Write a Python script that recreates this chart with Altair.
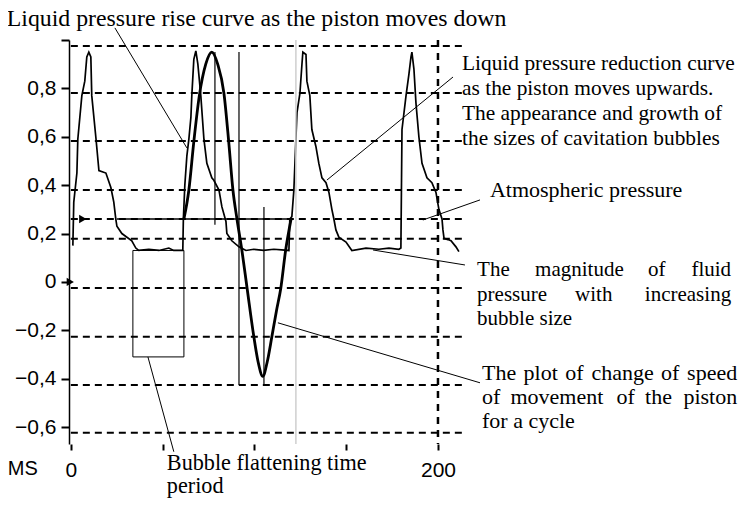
import altair as alt
import pandas as pd

# ---- pressure trace (thin stepped curve), time in ms, pressure value
trace_t = [1.1, 1.6, 3.3, 3.8, 6.0, 7.6, 8.7, 9.8, 10.9, 11.4, 13.6, 15.3, 19.1, 21.8, 23.4, 24.5, 25.1, 27.8,
           33.2, 35.4, 37.0, 42.5, 48.0, 53.4, 56.0, 61.0, 61.3, 62.1, 63.2, 64.3, 65.4, 65.9, 67.0, 68.1,
           69.2, 70.8, 72.5, 74.1, 76.8, 77.9, 80.7, 82.3, 84.5, 85.0, 87.7, 91.6, 95.4, 99.7, 105.0, 110.6,
           118.8, 119.3, 120.4, 121.5, 122.6, 123.2, 124.8, 125.9, 126.4, 128.1, 128.6, 130.2, 131.3, 133.5,
           135.1, 136.8, 139.0, 140.6, 142.2, 143.3, 144.4, 146.0, 149.9, 153.1, 160.8, 167.8, 173.3, 178.7,
           179.8, 180.4, 182.6, 184.2, 185.3, 185.8, 186.9, 188.0, 189.6, 191.3, 194.0, 196.7, 198.9, 200.5,
           202.2, 202.7, 203.3, 205.4, 207.1, 209.8, 211.4]
trace_v = [0.15, 0.33, 0.45, 0.59, 0.77, 0.83, 0.93, 0.95, 0.93, 0.77, 0.60, 0.46, 0.45, 0.39, 0.33, 0.26, 0.23, 0.20,
           0.17, 0.14, 0.13, 0.135, 0.13, 0.14, 0.13, 0.13, 0.26, 0.40, 0.52, 0.59, 0.68, 0.77, 0.92, 0.955,
           0.90, 0.77, 0.59, 0.49, 0.43, 0.42, 0.38, 0.31, 0.25, 0.20, 0.17, 0.145, 0.13, 0.135, 0.13, 0.135,
           0.13, 0.26, 0.27, 0.38, 0.59, 0.70, 0.78, 0.90, 0.95, 0.94, 0.83, 0.77, 0.63, 0.56,
           0.49, 0.43, 0.41, 0.37, 0.30, 0.26, 0.215, 0.185, 0.165, 0.13, 0.14, 0.135, 0.14, 0.135,
           0.14, 0.63, 0.77, 0.86, 0.93, 0.95, 0.88, 0.74, 0.60, 0.49, 0.43, 0.41, 0.37, 0.30,
           0.26, 0.215, 0.18, 0.175, 0.17, 0.145, 0.125]

# ---- piston speed curve (bold)
speed_t = [61.6, 64.3, 67.0, 70.0, 73.5, 76.8, 80.0, 83.4, 86.0, 88.3, 90.5, 93.2, 96.0, 99.7, 102.0, 104.6,
           107.0, 109.5, 112.0, 114.4, 117.0, 120.0]
speed_v = [0.26, 0.38, 0.58, 0.77, 0.90, 0.95, 0.90, 0.78, 0.58, 0.38, 0.26, 0.13, -0.025, -0.227, -0.33, -0.39,
           -0.33, -0.227, -0.12, -0.025, 0.13, 0.26]

# ---- axis ticks
y_ticks = [1.0, 0.8, 0.6, 0.4, 0.2, 0.0, -0.2, -0.4, -0.6]
x_ticks = [0, 50, 100, 150, 200]

# ---- oscilloscope grid
grid_v = [0.975, 0.781, 0.583, 0.380, 0.178, -0.025, -0.227, -0.426, -0.624]
grid_t = [0, 213]
atm_v = 0.26

# ---- reference markers
vmark_t = [78.5, 91.6, 105.2]
vmark_top = [0.95, 0.95, 0.31]
vmark_bot = [0.236, -0.426, -0.426]
atm_seg_t = [25.1, 120.4]
box_t = [33.8, 61.6]
box_v = [0.13, -0.31]
grey_t = 122.6
dash_t = 200

X_DOM = [-1, 212]
Y_DOM = [-0.67, 1.0]
xs = alt.Scale(domain=X_DOM, nice=False, zero=False)
ys = alt.Scale(domain=Y_DOM, nice=False, zero=False)

def X(f):
    return alt.X(f, type="quantitative", scale=xs, title=None)

def Y(f):
    return alt.Y(f, type="quantitative", scale=ys, title=None)

trace_df = pd.DataFrame({"t": trace_t, "v": trace_v})
speed_df = pd.DataFrame({"t": speed_t, "v": speed_v})
grid_df = pd.DataFrame({"v": grid_v + [atm_v], "t0": grid_t[0], "t1": grid_t[1]})
vm_df = pd.DataFrame({"t": vmark_t, "v0": vmark_top, "v1": vmark_bot})
atm_df = pd.DataFrame({"t0": [atm_seg_t[0]], "t1": [atm_seg_t[1]], "v": [atm_v]})
box_df = pd.DataFrame({"t0": [box_t[0]], "t1": [box_t[1]], "v0": [box_v[0]], "v1": [box_v[1]]})
grey_df = pd.DataFrame({"t": [grey_t], "v0": [Y_DOM[1]], "v1": [Y_DOM[0]]})
dash_df = pd.DataFrame({"t": [dash_t], "v0": [Y_DOM[1]], "v1": [Y_DOM[0]]})

# ---- annotation leader lines (from label to feature), in data units
lead_t0 = [24.0, 208.2, 222.9, 214.7, 222.9, 42.0]
lead_v0 = [1.05, 0.847, 0.339, 0.070, -0.417, -0.31]
lead_t1 = [63.2, 139.5, 191.8, 164.6, 112.8, 56.1]
lead_v1 = [0.554, 0.421, 0.256, 0.132, -0.169, -0.702]
lead_df = pd.DataFrame({"t0": lead_t0, "v0": lead_v0, "t1": lead_t1, "v1": lead_v1})

# ---- annotation texts (left aligned); justified lines are placed word by word
txt_left = [
    ("Liquid pressure rise curve as the piston moves down", -34.9, 1.058, 23.8),
    ("Liquid pressure reduction curve", 213.1, 0.876, 21.4),
    ("as the piston moves upwards.", 213.1, 0.773, 21.4),
    ("The appearance and growth of", 213.1, 0.669, 21.4),
    ("the sizes of cavitation bubbles", 213.1, 0.566, 21.4),
    ("Atmospheric pressure", 228.3, 0.351, 22),
    ("The", 221.3, 0.025, 21), ("magnitude", 252.9, 0.025, 21), ("of", 314.4, 0.025, 21),
    ("pressure", 221.3, -0.079, 21), ("with", 274.7, -0.079, 21),
    ("bubble size", 221.3, -0.178, 21),
    ("The", 224.0, -0.405, 22), ("plot", 246.6, -0.405, 22), ("of", 269.4, -0.405, 22),
    ("change", 283.6, -0.405, 22), ("of", 321.5, -0.405, 22),
    ("of", 224.0, -0.504, 22), ("movement", 239.5, -0.504, 22), ("of", 297.3, -0.504, 22),
    ("the", 312.8, -0.504, 22),
    ("for a cycle", 224.0, -0.603, 22),
    ("Bubble flattening time", 52.3, -0.777, 22.2),
    ("period", 52.3, -0.872, 22.2),
]
# last words of justified lines, right aligned at the block's right edge
txt_right = [
    ("fluid", 359.7, 0.025, 21),
    ("increasing", 359.7, -0.079, 21),
    ("speed", 363.0, -0.405, 22),
    ("piston", 363.0, -0.504, 22),
]
tl_df = pd.DataFrame(txt_left, columns=["text", "t", "v", "size"])
tr_df = pd.DataFrame(txt_right, columns=["text", "t", "v", "size"])
ms_df = pd.DataFrame({"text": ["MS"], "t": [-34.3], "v": [-0.798]})
mk_df = pd.DataFrame({"t": [6.5, -0.3], "v": [atm_v, 0.0]})

SERIF = "Liberation Serif"
SANS = "Liberation Sans"

trace = alt.Chart(trace_df).mark_line(color="black", strokeWidth=1.7).encode(
    x=alt.X("t:Q", scale=xs, title=None,
            axis=alt.Axis(values=x_ticks, orient="bottom", domain=False, tickSize=6, tickWidth=2,
                          tickColor="black", labelFlush=False, labelPadding=9, labelFontSize=21,
                          labelFont=SANS, labelColor="black", grid=False,
                          labelExpr="datum.value == 0 || datum.value == 200 ? datum.label : ''")),
    y=alt.Y("v:Q", scale=ys, title=None,
            axis=alt.Axis(values=y_ticks, orient="left", domain=True, domainColor="black", domainWidth=1.5,
                          tickSize=8, tickWidth=2, tickColor="black", labelPadding=5, labelFontSize=21,
                          labelFont=SANS, labelColor="black", grid=False, labelFlush=False,
                          labelExpr="datum.value == 1 ? '' : (datum.value == 0 ? '0' : replace(format(datum.value, '.1f'), '.', ','))")),
)

grid = alt.Chart(grid_df).mark_rule(color="black", strokeWidth=2, strokeDash=[7, 5]).encode(
    x=X("t0"), x2="t1", y=Y("v"))

full_grey = alt.Chart(grey_df).mark_rule(color="#cfcfcf", strokeWidth=1.5).encode(
    x=X("t"), y=Y("v0"), y2="v1")
full_dash = alt.Chart(dash_df).mark_rule(color="black", strokeWidth=2.5, strokeDash=[7, 6]).encode(
    x=X("t"), y=Y("v0"), y2="v1")

vm = alt.Chart(vm_df).mark_rule(color="black", strokeWidth=1.2).encode(x=X("t"), y=Y("v0"), y2="v1")
atm = alt.Chart(atm_df).mark_rule(color="black", strokeWidth=1.5).encode(x=X("t0"), x2="t1", y=Y("v"))
box = alt.Chart(box_df).mark_rect(fill="white", fillOpacity=0, stroke="black", strokeWidth=1).encode(
    x=X("t0"), x2="t1", y=Y("v0"), y2="v1")

speed = alt.Chart(speed_df).mark_line(color="black", strokeWidth=2.8, interpolate="monotone").encode(
    x=X("t"), y=Y("v"))

lead = alt.Chart(lead_df).mark_rule(color="black", strokeWidth=1).encode(
    x=X("t0"), x2="t1", y=Y("v0"), y2="v1")

marks = alt.Chart(mk_df).mark_point(shape="triangle-right", filled=True, color="black", size=70,
                                    opacity=1).encode(x=X("t"), y=Y("v"))

tl = alt.Chart(tl_df).mark_text(align="left", baseline="alphabetic", font=SERIF, color="black").encode(
    x=X("t"), y=Y("v"), text="text:N", size=alt.Size("size:Q", scale=None, legend=None))
tr = alt.Chart(tr_df).mark_text(align="right", baseline="alphabetic", font=SERIF, color="black").encode(
    x=X("t"), y=Y("v"), text="text:N", size=alt.Size("size:Q", scale=None, legend=None))
ms = alt.Chart(ms_df).mark_text(align="left", baseline="alphabetic", font=SANS, fontSize=20,
                                color="black").encode(x=X("t"), y=Y("v"), text="text:N")

chart = alt.layer(trace, grid, full_grey, full_dash, vm, atm, box, speed, lead, marks, tl, tr, ms).properties(
    width=391, height=404,
    padding={"left": 61, "top": 32, "right": 279, "bottom": 54},
    autosize=alt.AutoSizeParams(type="none"),
    background="white",
).configure_view(stroke=None).configure_axis(grid=False)

chart.save("out.html", embed_options={"renderer": "svg", "actions": False})
